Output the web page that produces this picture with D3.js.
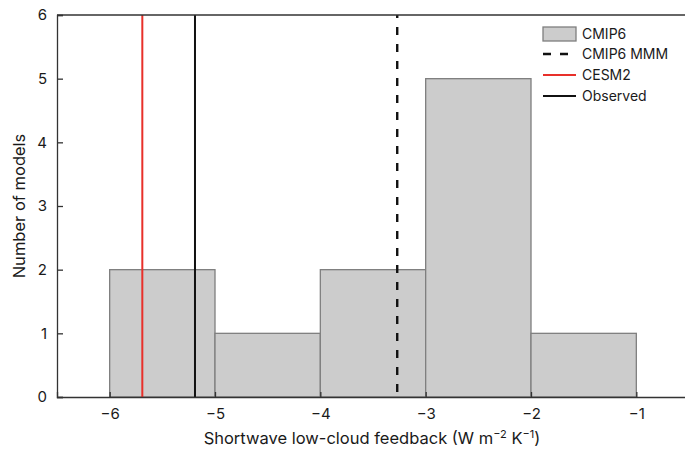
<!DOCTYPE html>
<html><head><meta charset="utf-8">
<script src="https://cdn.jsdelivr.net/npm/d3@7"></script>
<style>body{margin:0;background:#fff;} svg{display:block;} text{font-family:Inter,"Noto Sans",sans-serif;fill:#1a1a1a;}</style>
</head><body>
<script>
const binEdges = [-6, -5, -4, -3, -2, -1];
const binCounts = [2, 1, 2, 5, 1];
const mmmValue = -3.27;
const cesm2Value = -5.69;
const observedValue = -5.19;
const xTicks = [-6, -5, -4, -3, -2, -1];
const yTicks = [0, 1, 2, 3, 4, 5, 6];
const legendLabels = ["CMIP6", "CMIP6 MMM", "CESM2", "Observed"];

const W = 685, H = 452;
const svg = d3.select("body").append("svg").attr("width", W).attr("height", H);
const x = d3.scaleLinear().domain([-6.5, -0.5]).range([57, 689]);
const y = d3.scaleLinear().domain([0, 6]).range([397, 15]);

const bins = binCounts.map((c, i) => ({x0: binEdges[i], x1: binEdges[i+1], c}));
svg.append("g").selectAll("rect").data(bins).join("rect")
  .attr("x", d => x(d.x0)).attr("width", d => x(d.x1) - x(d.x0))
  .attr("y", d => y(d.c)).attr("height", d => y(0) - y(d.c))
  .attr("fill", "#cccccc").attr("stroke", "#7f7f7f").attr("stroke-width", 1.3);

// vertical lines
svg.append("line").attr("x1", x(cesm2Value)).attr("x2", x(cesm2Value)).attr("y1", y(6)).attr("y2", y(0))
  .attr("stroke", "#e8302a").attr("stroke-width", 2);
svg.append("line").attr("x1", x(observedValue)).attr("x2", x(observedValue)).attr("y1", y(6)).attr("y2", y(0))
  .attr("stroke", "#111").attr("stroke-width", 2);
svg.append("line").attr("x1", x(mmmValue)).attr("x2", x(mmmValue)).attr("y1", y(6)).attr("y2", y(0))
  .attr("stroke", "#111").attr("stroke-width", 2.4).attr("stroke-dasharray", "8,9").attr("stroke-dashoffset", 5);

// axes
const gx = svg.append("g").attr("transform", `translate(0,${y(0)})`)
  .call(d3.axisBottom(x).tickValues(xTicks).tickSize(-5).tickPadding(9).tickFormat(d => "\u2212" + Math.abs(d)));
const gy = svg.append("g").attr("transform", `translate(${x(-6.5)},0)`)
  .call(d3.axisLeft(y).tickValues(yTicks).tickSize(-6).tickPadding(10).tickFormat(d3.format("d")));
[gx, gy].forEach(g => {
  g.select(".domain").attr("stroke", "#333").attr("stroke-width", 1.3);
  g.selectAll(".tick line").attr("stroke", "#333").attr("stroke-width", 1.3);
  g.selectAll("text").style("font-size", "15px").attr("fill", "#1a1a1a");
});
gx.selectAll(".tick text").attr("dy", "0.85em");
// top border
svg.append("line").attr("x1", x(-6.5)).attr("x2", W).attr("y1", y(6)).attr("y2", y(6))
  .attr("stroke", "#333").attr("stroke-width", 1.3);

// axis labels
const xl = svg.append("text").attr("x", 372).attr("y", 444).attr("text-anchor", "middle").style("font-size", "16.5px");
xl.append("tspan").text("Shortwave low-cloud feedback (W m");
xl.append("tspan").attr("dy", -6).style("font-size", "11px").text("\u22122");
xl.append("tspan").attr("dy", 6).text(" K");
xl.append("tspan").attr("dy", -6).style("font-size", "11px").text("\u22121");
xl.append("tspan").attr("dy", 6).text(")");

svg.append("text").attr("transform", "translate(25,206) rotate(-90)").attr("text-anchor", "middle")
  .style("font-size", "16.5px").text("Number of models");

// legend
const lg = svg.append("g");
const rowY = [34, 54, 75, 96];
lg.append("rect").attr("x", 543).attr("y", 27).attr("width", 33).attr("height", 14)
  .attr("fill", "#cccccc").attr("stroke", "#7f7f7f").attr("stroke-width", 1.3);
lg.append("line").attr("x1", 543).attr("x2", 576).attr("y1", rowY[1]).attr("y2", rowY[1])
  .attr("stroke", "#111").attr("stroke-width", 2.4).attr("stroke-dasharray", "8,9");
lg.append("line").attr("x1", 543).attr("x2", 576).attr("y1", rowY[2]).attr("y2", rowY[2])
  .attr("stroke", "#e8302a").attr("stroke-width", 2);
lg.append("line").attr("x1", 543).attr("x2", 576).attr("y1", rowY[3]).attr("y2", rowY[3])
  .attr("stroke", "#111").attr("stroke-width", 2);
lg.selectAll("text.lab").data(legendLabels).join("text").attr("class", "lab")
  .attr("x", 582).attr("y", (d, i) => rowY[i]).attr("dy", "0.35em").style("font-size", "14px").text(d => d);
</script>
</body></html>
